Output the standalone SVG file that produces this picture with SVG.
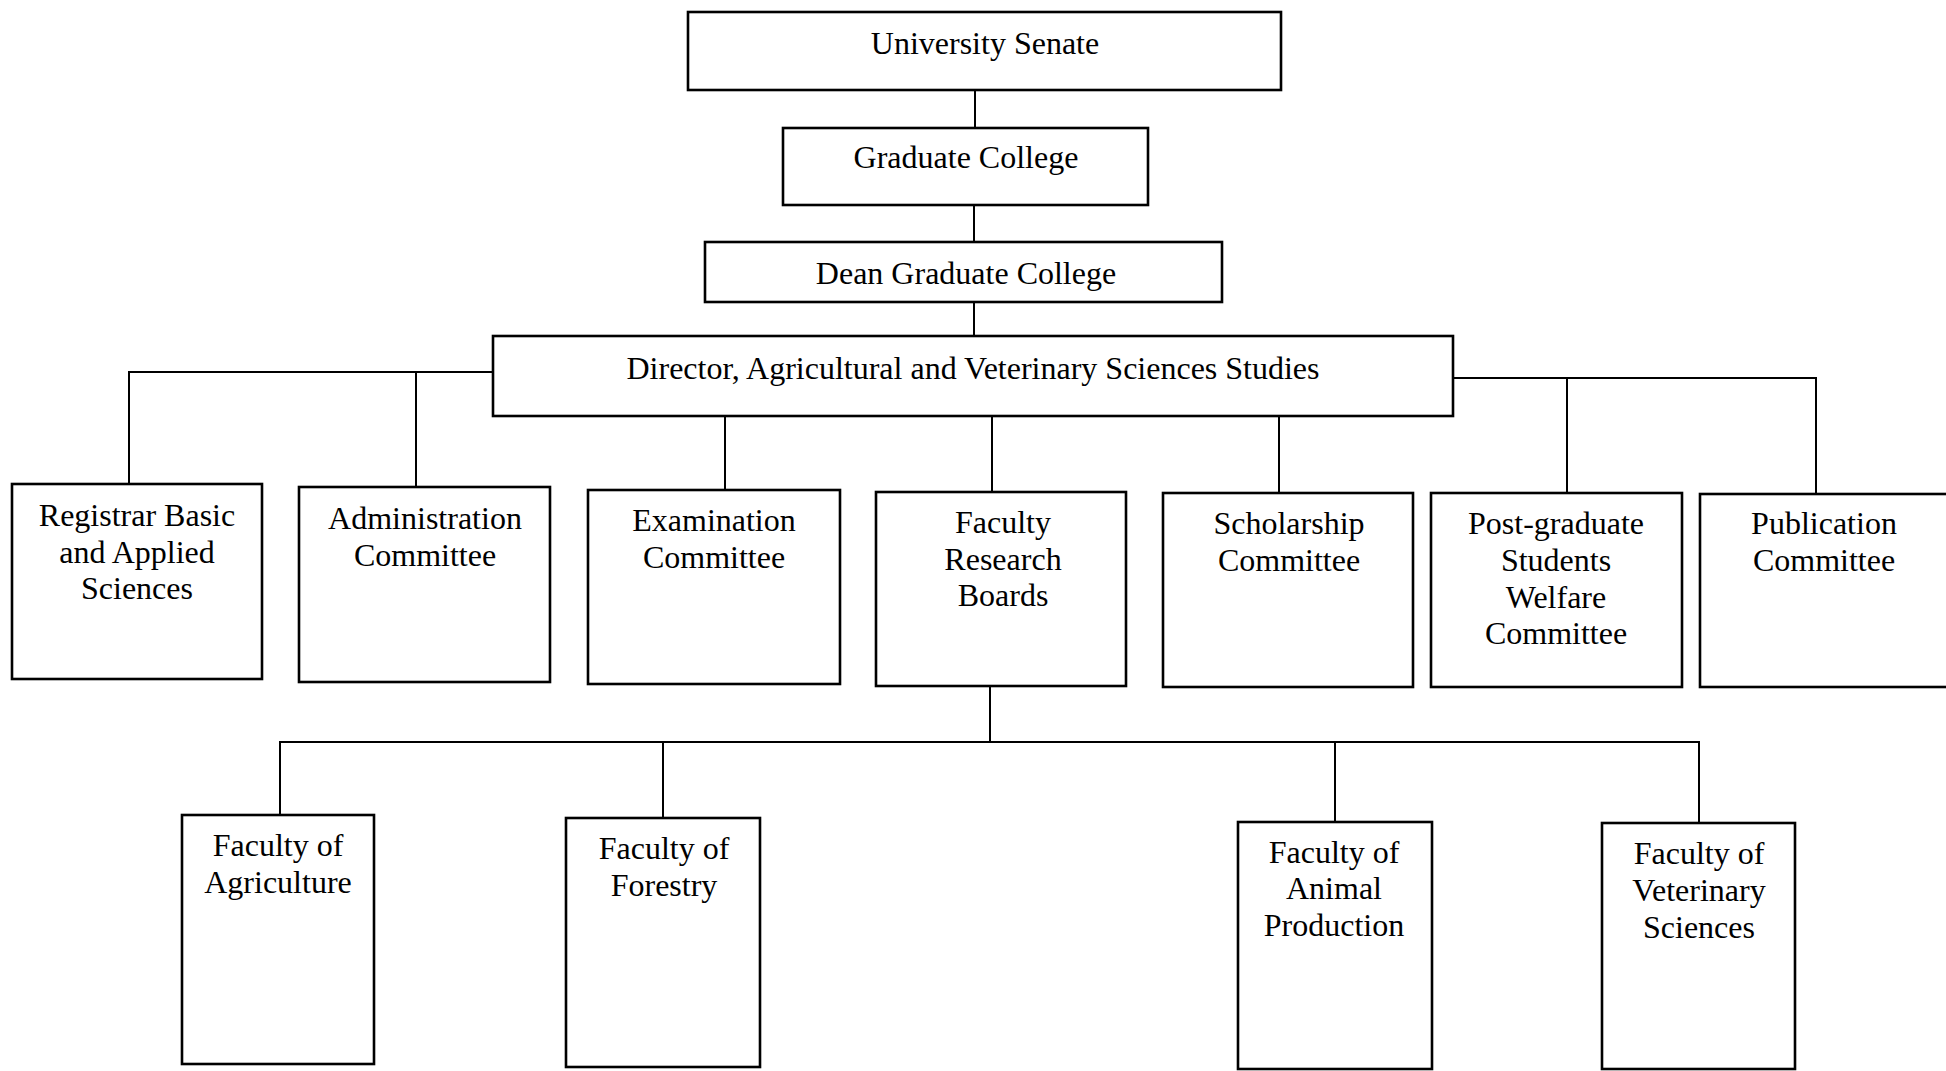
<svg xmlns="http://www.w3.org/2000/svg" width="1946" height="1071" viewBox="0 0 1946 1071">
<style>
.box{fill:#fff;stroke:#000;stroke-width:2.6}
.ln{fill:none;stroke:#000;stroke-width:2}
text{font-family:"Liberation Serif","Times New Roman",serif;font-size:32px;fill:#000;text-anchor:middle}
</style>
<rect width="1946" height="1071" fill="#fff"/>
<g id="connectors">
<path class="ln" d="M975,90 V128"/>
<path class="ln" d="M974,205 V242"/>
<path class="ln" d="M974,302 V336"/>
<path class="ln" d="M493,372 H129 V484"/>
<path class="ln" d="M416,372 V487"/>
<path class="ln" d="M725,415 V490"/>
<path class="ln" d="M992,415 V492"/>
<path class="ln" d="M1279,416 V493"/>
<path class="ln" d="M1453,378 H1816 V494"/>
<path class="ln" d="M1567,378 V493"/>
<path class="ln" d="M990,686 V742"/>
<path class="ln" d="M280,815 V742 H1699 V823"/>
<path class="ln" d="M663,742 V818"/>
<path class="ln" d="M1335,742 V822"/>
</g>
<g id="senate"><rect class="box" x="688" y="12" width="593" height="78"/><text x="985" y="54">University Senate</text></g>
<g id="graduate-college"><rect class="box" x="783" y="128" width="365" height="77"/><text x="966" y="168">Graduate College</text></g>
<g id="dean"><rect class="box" x="705" y="242" width="517" height="60"/><text x="966" y="284">Dean Graduate College</text></g>
<g id="director"><rect class="box" x="493" y="336" width="960" height="80"/><text x="973" y="379">Director, Agricultural and Veterinary Sciences Studies</text></g>
<g id="registrar"><rect class="box" x="12" y="484" width="250" height="195"/><text x="137" y="526">Registrar Basic</text><text x="137" y="562.5">and Applied</text><text x="137" y="599">Sciences</text></g>
<g id="administration"><rect class="box" x="299" y="487" width="251" height="195"/><text x="425" y="529">Administration</text><text x="425" y="566">Committee</text></g>
<g id="examination"><rect class="box" x="588" y="490" width="252" height="194"/><text x="714" y="531">Examination</text><text x="714" y="568">Committee</text></g>
<g id="research-boards"><rect class="box" x="876" y="492" width="250" height="194"/><text x="1003" y="533">Faculty</text><text x="1003" y="569.5">Research</text><text x="1003" y="606">Boards</text></g>
<g id="scholarship"><rect class="box" x="1163" y="493" width="250" height="194"/><text x="1289" y="534">Scholarship</text><text x="1289" y="571">Committee</text></g>
<g id="welfare"><rect class="box" x="1431" y="493" width="251" height="194"/><text x="1556" y="534">Post-graduate</text><text x="1556" y="571">Students</text><text x="1556" y="608">Welfare</text><text x="1556" y="644">Committee</text></g>
<g id="publication"><rect class="box" x="1700" y="494" width="270" height="193"/><text x="1824" y="534">Publication</text><text x="1824" y="571">Committee</text></g>
<g id="agriculture"><rect class="box" x="182" y="815" width="192" height="249"/><text x="278" y="856">Faculty of</text><text x="278" y="893">Agriculture</text></g>
<g id="forestry"><rect class="box" x="566" y="818" width="194" height="249"/><text x="664" y="859">Faculty of</text><text x="664" y="896">Forestry</text></g>
<g id="animal-production"><rect class="box" x="1238" y="822" width="194" height="247"/><text x="1334" y="863">Faculty of</text><text x="1334" y="899">Animal</text><text x="1334" y="936">Production</text></g>
<g id="veterinary"><rect class="box" x="1602" y="823" width="193" height="246"/><text x="1699" y="864">Faculty of</text><text x="1699" y="901">Veterinary</text><text x="1699" y="938">Sciences</text></g>
</svg>
